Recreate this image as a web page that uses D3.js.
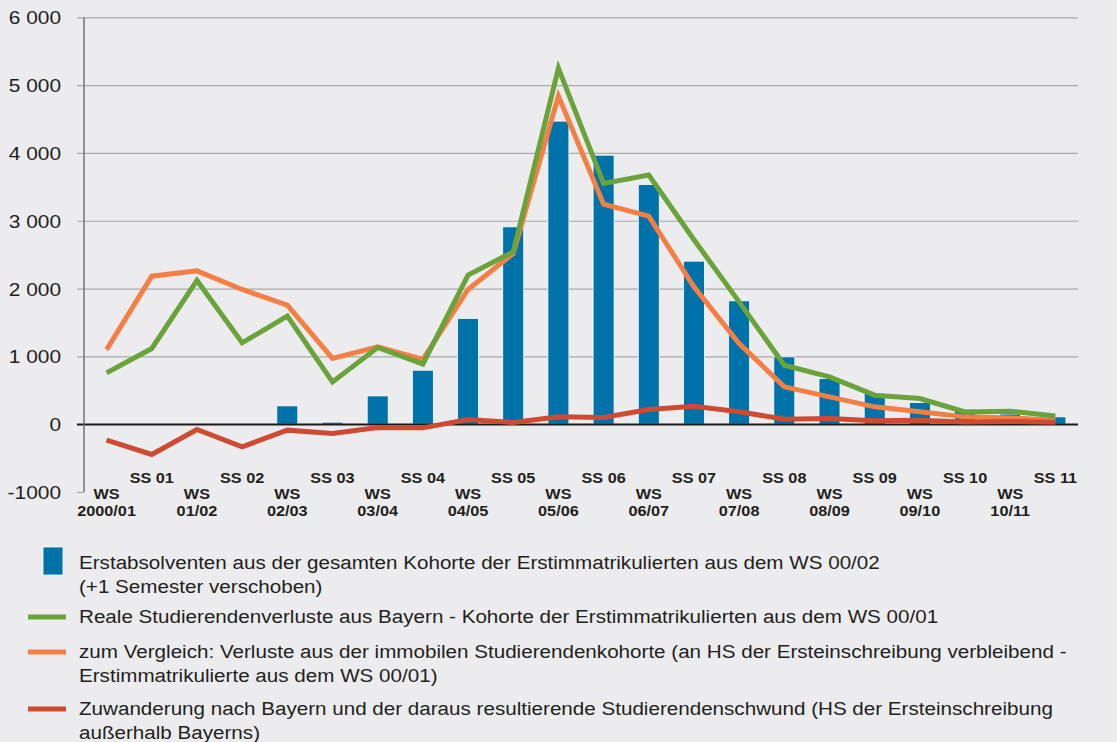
<!DOCTYPE html>
<html>
<head>
	<meta charset="utf-8">
	<title>Studierendenverluste</title>
	<style type="text/css">
		body {
			margin: 0;
			background-color: #ececee;
		}
		svg {
			display: block;
			background-color: #ececee;
		}
		.ytick text {
			font-family: 'Liberation Sans', Arial, sans-serif;
			font-size: 18px;
			fill: #231f20;
		}
		.xlabel {
			font-family: 'Liberation Sans', Arial, sans-serif;
			font-size: 14.5px;
			font-weight: bold;
			fill: #231f20;
		}
		.legendText {
			font-family: 'Liberation Sans', Arial, sans-serif;
			font-size: 18px;
			fill: #231f20;
		}
	</style>
	<script src="https://cdn.jsdelivr.net/npm/d3@7"></script>
</head>
<body>
	<div id="chart"></div>
	<script type="text/javascript">
		// semesters (WS = two-line label, SS = one line)
		var semesters = ['WS|2000/01', 'SS 01', 'WS|01/02', 'SS 02', 'WS|02/03', 'SS 03', 'WS|03/04', 'SS 04',
			'WS|04/05', 'SS 05', 'WS|05/06', 'SS 06', 'WS|06/07', 'SS 07', 'WS|07/08', 'SS 08',
			'WS|08/09', 'SS 09', 'WS|09/10', 'SS 10', 'WS|10/11', 'SS 11'];

		var absolventen = [0, 0, 0, 0, 270, 30, 417, 796, 1559, 2910, 4469, 3967, 3535, 2404, 1819, 993,
			673, 455, 320, 221, 150, 108];
		var realeVerluste = [757, 1116, 2120, 1200, 1593, 624, 1131, 885, 2198, 2542, 5250, 3550, 3673, 2720, 1804, 870,
			698, 428, 379, 181, 192, 122];
		var immobilVerluste = [1100, 2183, 2261, 1987, 1755, 969, 1140, 955, 1987, 2517, 4838, 3245, 3068, 2025, 1190, 551,
			403, 256, 182, 108, 93, 59];
		var zuwanderung = [-236, -447, -78, -334, -88, -137, -49, -54, 69, 25, 108, 99, 217, 265, 182, 74,
			84, 49, 59, 34, 40, 30];

		var yTicks = [-1000, 0, 1000, 2000, 3000, 4000, 5000, 6000];
		var yTickLabels = ['-1000', '0', '1 000', '2 000', '3 000', '4 000', '5 000', '6 000'];

		var legendLabels = [
			['Erstabsolventen aus der gesamten Kohorte der Erstimmatrikulierten aus dem WS 00/02', '(+1 Semester verschoben)'],
			['Reale Studierendenverluste aus Bayern - Kohorte der Erstimmatrikulierten aus dem WS 00/01'],
			['zum Vergleich: Verluste aus der immobilen Studierendenkohorte (an HS der Ersteinschreibung verbleibend -', 'Erstimmatrikulierte aus dem WS 00/01)'],
			['Zuwanderung nach Bayern und der daraus resultierende Studierendenschwund (HS der Ersteinschreibung', 'außerhalb Bayerns)']
		];

		var width = 1117, height = 742;
		var plotLeft = 84, plotRight = 1078, plotTop = 17.3, plotBottom = 492;
		var barWidth = 21;
		var blue = '#0072aa', green = '#6aa33a', orange = '#f47f45', red = '#cf4a33';

		var svg = d3.select('#chart')
			.append('svg')
			.attr('width', width)
			.attr('height', height);

		// the original typeface runs wider than Liberation Sans
		function stretch(sel, factor) {
			sel.each(function(){
				var w = this.getComputedTextLength();
				d3.select(this)
					.attr('textLength', w * factor)
					.attr('lengthAdjust', 'spacingAndGlyphs');
			});
		}

		var xScale = d3.scaleBand()
			.domain(d3.range(semesters.length))
			.range([plotLeft, plotRight])
			.padding(0);

		var yScale = d3.scaleLinear()
			.domain([-1000, 6000])
			.range([plotBottom, plotTop]);

		function cx(i) {
			return xScale(i) + xScale.bandwidth() / 2;
		}

		// y axis with gridlines
		var yAxis = d3.axisLeft(yScale)
			.tickValues(yTicks)
			.tickSizeInner(-(plotRight - plotLeft))
			.tickSizeOuter(0)
			.tickFormat(function(d, i){ return yTickLabels[i]; });

		var yAxisG = svg.append('g')
			.attr('transform', 'translate(' + plotLeft + ',0)')
			.call(yAxis);
		yAxisG.select('.domain').remove();
		yAxisG.selectAll('.tick').attr('class', 'tick ytick');
		yAxisG.selectAll('.tick line')
			.attr('x1', -7)
			.attr('x2', function(d){ return d == -1000 ? 0 : plotRight - plotLeft; })
			.attr('stroke', function(d){ return d == 0 ? '#1a1a1a' : '#a9a9ab'; })
			.attr('stroke-width', function(d){ return d == 0 ? 1.6 : 1.2; });
		yAxisG.selectAll('.tick text')
			.attr('x', -23)
			.attr('dy', '0.36em')
			.attr('font-family', null)
			.attr('font-size', null)
			.attr('fill', null)
			.call(stretch, 1.16);

		// bars
		svg.append('g')
			.selectAll('rect')
			.data(absolventen.map(function(v, i){ return {i: i, v: v}; }).filter(function(d){ return d.v > 0; }))
			.enter()
			.append('rect')
			.attr('x', function(d){ return cx(d.i) - barWidth / 2; })
			.attr('y', function(d){ return yScale(d.v); })
			.attr('width', barWidth)
			.attr('height', function(d){ return yScale(0) - yScale(d.v); })
			.attr('fill', blue)
			.attr('stroke', '#ffffff')
			.attr('stroke-width', 0.8);

		// zero line + vertical axis on top of bars
		svg.append('line')
			.attr('x1', plotLeft - 7).attr('x2', plotRight)
			.attr('y1', yScale(0)).attr('y2', yScale(0))
			.attr('stroke', '#1a1a1a')
			.attr('stroke-width', 1.6);
		svg.append('line')
			.attr('x1', plotLeft).attr('x2', plotLeft)
			.attr('y1', plotTop).attr('y2', plotBottom)
			.attr('stroke', '#6d6d6f')
			.attr('stroke-width', 1.4);

		var line = d3.line()
			.x(function(d, i){ return cx(i); })
			.y(function(d){ return yScale(d); });

		[[immobilVerluste, orange], [zuwanderung, red], [realeVerluste, green]].forEach(function(s){
			svg.append('path')
				.datum(s[0])
				.attr('d', line)
				.attr('fill', 'none')
				.attr('stroke', s[1])
				.attr('stroke-width', 5)
				.attr('stroke-linejoin', 'miter');
		});

		// x labels
		semesters.forEach(function(s, i){
			var parts = s.split('|');
			var t = svg.append('text')
				.attr('class', 'xlabel')
				.attr('text-anchor', 'middle');
			if (parts.length == 1) {
				t.attr('x', cx(i)).attr('y', 483).text(parts[0]).call(stretch, 1.12);
			} else {
				t.append('tspan').attr('x', cx(i)).attr('y', 499).text(parts[0]).call(stretch, 1.12);
				t.append('tspan').attr('x', cx(i)).attr('y', 516).text(parts[1]).call(stretch, 1.12);
			}
		});

		// legend
		var legendY = [569, 623, 658, 715];
		var legendColors = [blue, green, orange, red];
		legendLabels.forEach(function(lines, i){
			if (i == 0) {
				svg.append('rect')
					.attr('x', 43).attr('y', 547)
					.attr('width', 20).attr('height', 28)
					.attr('fill', blue)
					.attr('stroke', '#ffffff')
					.attr('stroke-width', 0.8);
			} else {
				svg.append('line')
					.attr('x1', 28).attr('x2', 66)
					.attr('y1', legendY[i] - 6).attr('y2', legendY[i] - 6)
					.attr('stroke', legendColors[i])
					.attr('stroke-width', 5);
			}
			var t = svg.append('text').attr('class', 'legendText');
			lines.forEach(function(l, j){
				t.append('tspan')
					.attr('x', 79)
					.attr('y', legendY[i] + j * 24)
					.text(l)
					.call(stretch, 1.145);
			});
		});
	</script>
</body>
</html>
